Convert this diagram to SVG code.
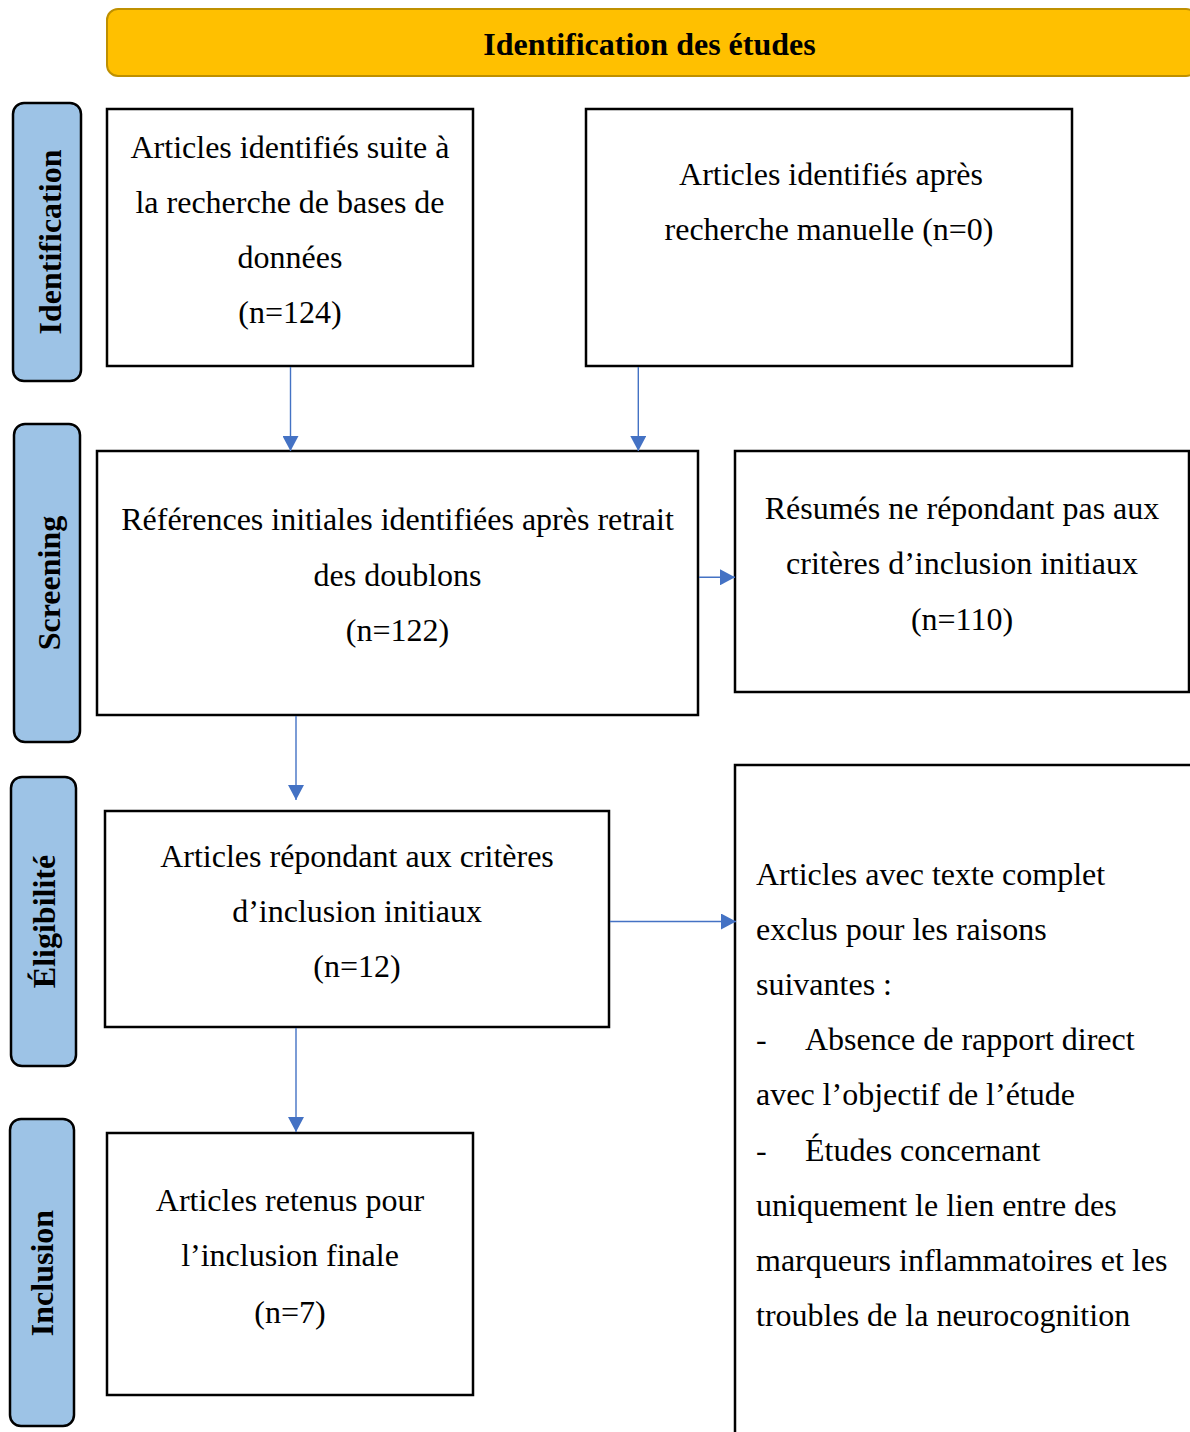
<svg xmlns="http://www.w3.org/2000/svg" width="1190" height="1432" viewBox="0 0 1190 1432">
<style>
.box{fill:#fff;stroke:#000;stroke-width:2.5}
.lab{fill:#9DC3E6;stroke:#000;stroke-width:2.5}
.t{font-family:"Liberation Serif","Times New Roman",serif;font-size:32px;fill:#000}
.c{text-anchor:middle}
.b{font-weight:bold}
.con{stroke:#4472C4;stroke-width:1.4;fill:none}
</style>
<defs>
<marker id="ah" markerUnits="userSpaceOnUse" markerWidth="16" markerHeight="16" viewBox="0 0 16 16" refX="15" refY="8" orient="auto">
<path d="M0,0 L15,8 L0,16 Z" fill="#4472C4"/>
</marker>
</defs>
<rect width="1190" height="1432" fill="#fff"/>

<g id="header">
<rect x="107" y="9" width="1090" height="67" rx="11" fill="#FFC000" stroke="#BF9000" stroke-width="2"/>
<text class="t c b" x="649.5" y="55">Identification des études</text>
</g>

<g id="label-identification">
<rect class="lab" x="13" y="103" width="68" height="278" rx="11"/>
<text class="t c b" transform="translate(61,242) rotate(-90)">Identification</text>
</g>
<g id="label-screening">
<rect class="lab" x="14" y="424" width="66" height="318" rx="11"/>
<text class="t c b" transform="translate(60,583) rotate(-90)">Screening</text>
</g>
<g id="label-eligibilite">
<rect class="lab" x="11" y="777" width="65" height="289" rx="11"/>
<text class="t c b" transform="translate(55,921.5) rotate(-90)">Éligibilité</text>
</g>
<g id="label-inclusion">
<rect class="lab" x="10" y="1119" width="64" height="307" rx="11"/>
<text class="t c b" transform="translate(53,1273) rotate(-90)">Inclusion</text>
</g>

<g id="box-databases">
<rect class="box" x="107" y="109" width="366" height="257"/>
<text class="t c" x="290" y="158">Articles identifiés suite à</text>
<text class="t c" x="290" y="213">la recherche de bases de</text>
<text class="t c" x="290" y="268">données</text>
<text class="t c" x="290" y="323">(n=124)</text>
</g>

<g id="box-manual">
<rect class="box" x="586" y="109" width="486" height="257"/>
<text class="t c" x="831" y="185">Articles identifiés après</text>
<text class="t c" x="829" y="240">recherche manuelle (n=0)</text>
</g>

<g id="box-references">
<rect class="box" x="97" y="451" width="601" height="264"/>
<text class="t c" x="397.5" y="530">Références initiales identifiées après retrait</text>
<text class="t c" x="397.5" y="586">des doublons</text>
<text class="t c" x="397.5" y="641">(n=122)</text>
</g>

<g id="box-resumes">
<rect class="box" x="735" y="451" width="454" height="241"/>
<text class="t c" x="962" y="519">Résumés ne répondant pas aux</text>
<text class="t c" x="962" y="574">critères d’inclusion initiaux</text>
<text class="t c" x="962" y="630">(n=110)</text>
</g>

<g id="box-eligible">
<rect class="box" x="105" y="811" width="504" height="216"/>
<text class="t c" x="357" y="867">Articles répondant aux critères</text>
<text class="t c" x="357" y="922">d’inclusion initiaux</text>
<text class="t c" x="357" y="977">(n=12)</text>
</g>

<g id="box-excluded">
<rect class="box" x="735" y="765" width="480" height="700"/>
<text class="t" x="756" y="885">Articles avec texte complet</text>
<text class="t" x="756" y="940">exclus pour les raisons</text>
<text class="t" x="756" y="995">suivantes :</text>
<text class="t" x="756" y="1050">-</text>
<text class="t" x="805" y="1050">Absence de rapport direct</text>
<text class="t" x="756" y="1105">avec l’objectif de l’étude</text>
<text class="t" x="756" y="1161">-</text>
<text class="t" x="805" y="1161">Études concernant</text>
<text class="t" x="756" y="1216">uniquement le lien entre des</text>
<text class="t" x="756" y="1271">marqueurs inflammatoires et les</text>
<text class="t" x="756" y="1326">troubles de la neurocognition</text>
</g>

<g id="box-final">
<rect class="box" x="107" y="1133" width="366" height="262"/>
<text class="t c" x="290" y="1211">Articles retenus pour</text>
<text class="t c" x="290" y="1266">l’inclusion finale</text>
<text class="t c" x="290" y="1323">(n=7)</text>
</g>

<g id="connectors">
<line class="con" x1="290.5" y1="367" x2="290.5" y2="451" marker-end="url(#ah)"/>
<line class="con" x1="638.3" y1="367" x2="638.3" y2="451" marker-end="url(#ah)"/>
<line class="con" x1="699" y1="577.3" x2="735" y2="577.3" marker-end="url(#ah)"/>
<line class="con" x1="296" y1="716" x2="296" y2="800" marker-end="url(#ah)"/>
<line class="con" x1="610" y1="921.5" x2="736" y2="921.5" marker-end="url(#ah)"/>
<line class="con" x1="296" y1="1028" x2="296" y2="1132" marker-end="url(#ah)"/>
</g>
</svg>
